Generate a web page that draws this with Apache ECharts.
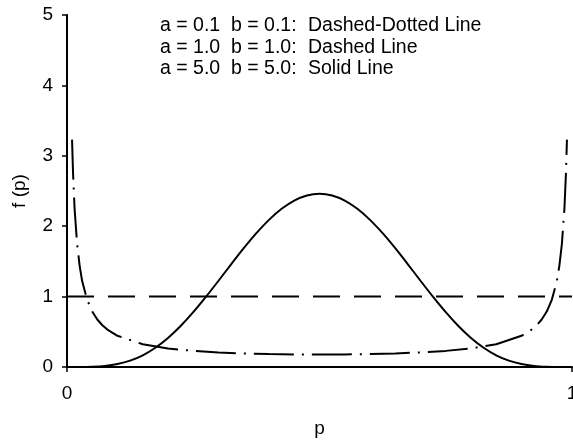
<!DOCTYPE html>
<html>
<head>
<meta charset="utf-8">
<script src="https://cdn.jsdelivr.net/npm/echarts@6/dist/echarts.min.js"></script>
<style>
html,body{margin:0;padding:0;background:#fff;}
#chart{width:573px;height:441px;}
</style>
</head>
<body>
<div id="chart"></div>
<script>
// ---- data ----
const pBeta01 = [0.01, 0.012, 0.015, 0.02, 0.025, 0.03, 0.04, 0.05, 0.06, 0.07, 0.08, 0.1, 0.15, 0.2, 0.25, 0.3, 0.35, 0.4, 0.45, 0.5,
                 0.55, 0.6, 0.65, 0.7, 0.75, 0.8, 0.85, 0.9, 0.92, 0.93, 0.94, 0.95, 0.96, 0.97, 0.975, 0.98, 0.985, 0.988, 0.99];
const fBeta01 = [3.23, 2.75, 2.25, 1.75, 1.44, 1.22, 0.954, 0.788, 0.675, 0.593, 0.531, 0.443, 0.324, 0.264, 0.229, 0.207, 0.192, 0.183, 0.178, 0.177,
                 0.178, 0.183, 0.192, 0.207, 0.229, 0.264, 0.324, 0.443, 0.531, 0.593, 0.675, 0.788, 0.954, 1.22, 1.44, 1.75, 2.25, 2.75, 3.23];

const pBeta1 = [0, 1];
const fBeta1 = [1, 1];

const pBeta5 = [0, 0.025, 0.05, 0.075, 0.1, 0.125, 0.15, 0.175, 0.2, 0.225, 0.25, 0.275, 0.3, 0.325, 0.35, 0.375, 0.4, 0.425, 0.45, 0.475, 0.5,
                0.525, 0.55, 0.575, 0.6, 0.625, 0.65, 0.675, 0.7, 0.725, 0.75, 0.775, 0.8, 0.825, 0.85, 0.875, 0.9, 0.925, 0.95, 0.975, 1];
const fBeta5 = [0, 0.0002, 0.0032, 0.0146, 0.0413, 0.0902, 0.1665, 0.2737, 0.4129, 0.5825, 0.7787, 0.9954, 1.2252, 1.4591, 1.6876, 1.9010, 2.0902, 2.2468, 2.3639, 2.4364, 2.4609,
                2.4364, 2.3639, 2.2468, 2.0902, 1.9010, 1.6876, 1.4591, 1.2252, 0.9954, 0.7787, 0.5825, 0.4129, 0.2737, 0.1665, 0.0902, 0.0413, 0.0146, 0.0032, 0.0002, 0];

const yTicks = [0, 1, 2, 3, 4, 5];
const xTicks = [0, 1];

const noteCols = [
  ["a = 0.1", "b = 0.1:", "Dashed-Dotted Line"],
  ["a = 1.0", "b = 1.0:", "Dashed Line"],
  ["a = 5.0", "b = 5.0:", "Solid Line"]
];

// ---- chart ----
const FONT = '"Liberation Sans", Arial, sans-serif';
const zip = (xs, ys) => xs.map((x, i) => [x, ys[i]]);

const noteX = [160, 231, 308];
const noteY = [25.5, 47, 68.5];
const graphics = [];
noteCols.forEach((row, r) => {
  row.forEach((txt, c) => {
    graphics.push({
      type: 'text', left: noteX[c], top: noteY[r] - 9.75, silent: true,
      style: { text: txt, fill: '#000', font: '19.5px ' + FONT }
    });
  });
});

const chart = echarts.init(document.getElementById('chart'), null, { renderer: 'canvas' });
chart.setOption({
  animation: false,
  backgroundColor: '#fff',
  grid: { left: 67, right: 1, top: 15, bottom: 74, containLabel: false, outerBoundsMode: 'none' },
  xAxis: {
    type: 'value', min: xTicks[0], max: xTicks[xTicks.length - 1], interval: 1,
    name: 'p', nameLocation: 'middle', nameGap: 52,
    nameTextStyle: { color: '#000', fontSize: 19, fontFamily: FONT },
    axisLine: { show: true, lineStyle: { color: '#000', width: 2 } },
    axisTick: { show: true, length: 5, lineStyle: { color: '#000', width: 1.5 } },
    axisLabel: { color: '#000', fontSize: 19, fontFamily: FONT, margin: 17, showMaxLabel: true, showMinLabel: true },
    splitLine: { show: false }
  },
  yAxis: {
    type: 'value', min: yTicks[0], max: yTicks[yTicks.length - 1], interval: 1,
    name: 'f (p)', nameLocation: 'middle', nameGap: 38,
    nameTextStyle: { color: '#000', fontSize: 19, fontFamily: FONT },
    axisLine: { show: true, lineStyle: { color: '#000', width: 2 } },
    axisTick: { show: true, length: 5, lineStyle: { color: '#000', width: 1.5 } },
    axisLabel: { color: '#000', fontSize: 19, fontFamily: FONT, margin: 14 },
    splitLine: { show: false }
  },
  graphic: graphics,
  series: [
    {
      type: 'line', data: zip(pBeta01, fBeta01), showSymbol: false, silent: true,
      lineStyle: { color: '#000', width: 2, type: [40, 8, 2, 8] }
    },
    {
      type: 'line', data: zip(pBeta1, fBeta1), showSymbol: false, silent: true,
      lineStyle: { color: '#000', width: 2, type: [27, 14] }
    },
    {
      type: 'line', data: zip(pBeta5, fBeta5), showSymbol: false, silent: true, smooth: 0.3,
      lineStyle: { color: '#000', width: 2, type: 'solid' }
    }
  ]
});
</script>
</body>
</html>
